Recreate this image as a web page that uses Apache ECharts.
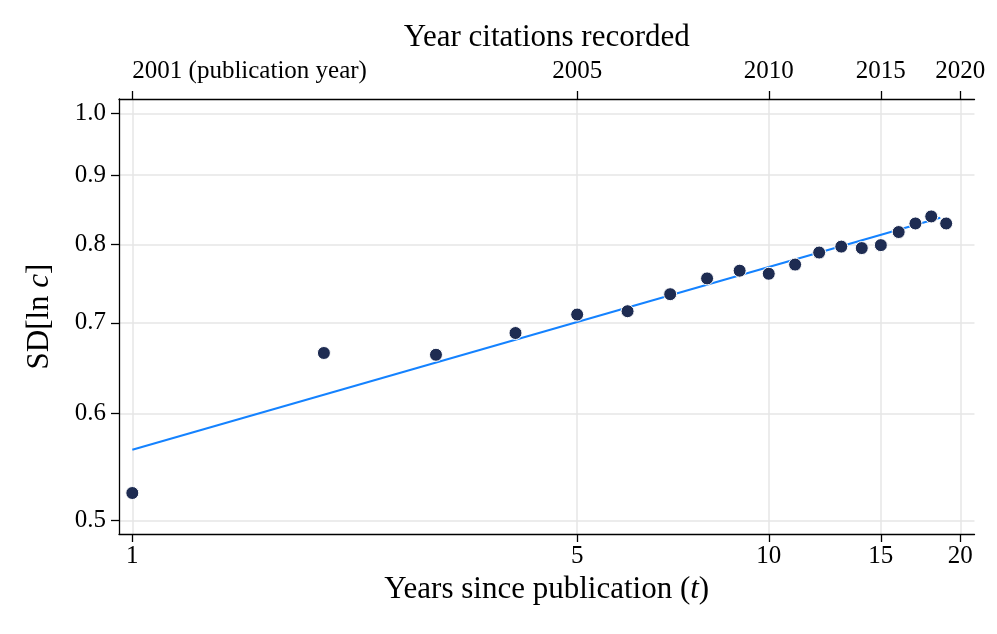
<!DOCTYPE html>
<html>
<head>
<meta charset="utf-8">
<script src="https://cdn.jsdelivr.net/npm/echarts@6/dist/echarts.min.js"></script>
<style>html,body{margin:0;padding:0;background:#fff}#c{width:997px;height:634px}</style>
</head>
<body>
<div id="c"></div>
<script>
// Data
const years = [1,2,3,4,5,6,7,8,9,10,11,12,13,14,15,16,17,18,19];
const sdLnC = [0.524,0.665,0.663,0.688,0.710,0.714,0.735,0.755,0.765,0.761,0.773,0.789,0.797,0.795,0.799,0.817,0.829,0.839,0.829];
const fitT = [1, 18.6];
const fitSD = [0.564, 0.837];
const xTicks = [1,5,10,15,20];
const yTicks = [0.5,0.6,0.7,0.8,0.9,1.0];
const pubYear = 2000;

const FONT = '"Liberation Serif", "DejaVu Serif", serif';
const chart = echarts.init(document.getElementById('c'));
const axisLine = {show:true, lineStyle:{color:'#000', width:1.3}};
const splitLine = {show:true, lineStyle:{color:'#e6e6e6', width:1.5}};
const rich = {a:{fontFamily:FONT,fontSize:31,color:'#000'},b:{fontFamily:FONT,fontSize:31,color:'#000',fontStyle:'italic'}};
chart.setOption({
  animation:false,
  grid:{left:119, right:22.5, top:99, bottom:100, containLabel:false},
  xAxis:[{
    type:'log', position:'bottom', min:0.953, max:21.05,
    axisLine:axisLine,
    axisTick:{show:true, length:8, inside:false, lineStyle:{color:'#000', width:1.3}, customValues:xTicks},
    axisLabel:{customValues:xTicks, margin:10, fontFamily:FONT, fontSize:25, color:'#000', formatter:v=>String(Math.round(v))},
    splitLine:splitLine, minorTick:{show:false},
    name:'{a|Years since publication (}{b|t}{a|)}', nameLocation:'middle', nameGap:38.5,
    nameTextStyle:{rich:rich}
  },{
    type:'log', position:'top', min:0.953, max:21.05,
    axisLine:axisLine,
    axisTick:{show:true, length:8, lineStyle:{color:'#000', width:1.3}, customValues:xTicks},
    axisLabel:{customValues:xTicks, margin:15.5, fontFamily:FONT, fontSize:25, color:'#000', alignMinLabel:'left',
      formatter:v=>{const y=pubYear+Math.round(v); return Math.round(v)===1 ? y+' (publication year)' : String(y);}},
    splitLine:{show:false},
    name:'Year citations recorded', nameLocation:'middle', nameGap:42,
    nameTextStyle:{fontFamily:FONT,fontSize:31,color:'#000'}
  }],
  yAxis:[{
    type:'log', min:0.4887, max:1.0246,
    axisLine:axisLine,
    axisTick:{show:true, length:8, lineStyle:{color:'#000', width:1.3}, customValues:yTicks},
    axisLabel:{customValues:yTicks, margin:13, fontFamily:FONT, fontSize:25, color:'#000', formatter:v=>v.toFixed(1)},
    splitLine:splitLine,
    name:'{a|SD[ln }{b|c}{a|]}', nameLocation:'middle', nameGap:64, nameRotate:90,
    nameTextStyle:{rich:rich}
  }],
  series:[{
    type:'line', xAxisIndex:0, yAxisIndex:0,
    data:fitT.map((t,i)=>[t,fitSD[i]]), showSymbol:false, symbol:'none',
    lineStyle:{color:'#1482ff', width:2}, z:2
  },{
    type:'scatter', xAxisIndex:0, yAxisIndex:0,
    data:years.map((t,i)=>[t,sdLnC[i]]), symbolSize:13,
    itemStyle:{color:'#1e2c52', borderColor:'#fff', borderWidth:1, opacity:1}, z:3
  }]
});
</script>
</body>
</html>
